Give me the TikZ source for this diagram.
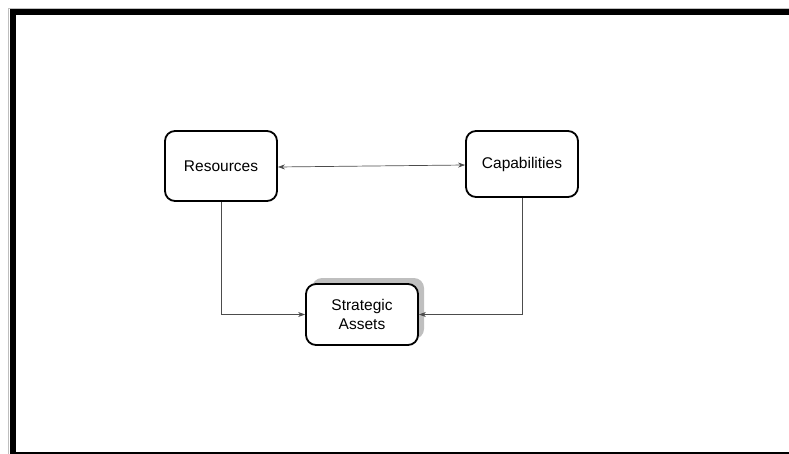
\documentclass[tikz,border=0pt]{standalone}
\usepackage{fontspec}
\setmainfont{Liberation Sans}
\usepackage{tikz}
\usetikzlibrary{arrows.meta,shadows}
\pgfdeclarelayer{bg}
\pgfsetlayers{bg,main}
\tikzset{
  blockbox/.style={draw, line width=1.8pt, rounded corners=10pt, fill=white,
    minimum width=112pt, align=center, font=\fontsize{15.5}{17}\selectfont},
  linkline/.style={draw=black!70, line width=0.7pt},
  tip/.style={-{Stealth[length=7pt,width=5pt]}},
}
\begin{document}
\begin{tikzpicture}[x=1pt, y=-1pt]
        \useasboundingbox (0,0) rectangle (789,454);
        \node (res) [blockbox, minimum height=70pt] at (221, 166) {Resources};
        \node (cap) [blockbox, minimum height=66pt] at (522, 164) {Capabilities};
        \node (asset) [blockbox, minimum height=61pt,
          drop shadow={shadow xshift=6pt, shadow yshift=6pt, fill=black!25, opacity=1}]
          at (362, 314.5) {Strategic\\[2pt]Assets};
        \draw [linkline, {Stealth[length=7pt,width=5pt]}-{Stealth[length=7pt,width=5pt]}] ([yshift=-1pt]res.east) -- ([yshift=-1pt]cap.west);
        \draw [linkline, tip] (res.south) |- (asset.west);
        \draw [linkline, tip] (cap.south) |- (asset.east);
        \begin{pgfonlayer}{bg}
                % frame
                \draw[black!25, line width=0.8pt] (789,8) -- (8,8) -- (8,454);
                \draw[line width=6pt] (789,12) -- (13,12) -- (13,454);
                \draw[line width=5pt] (10,454) -- (789,454);
        \end{pgfonlayer}
\end{tikzpicture}
\end{document}
